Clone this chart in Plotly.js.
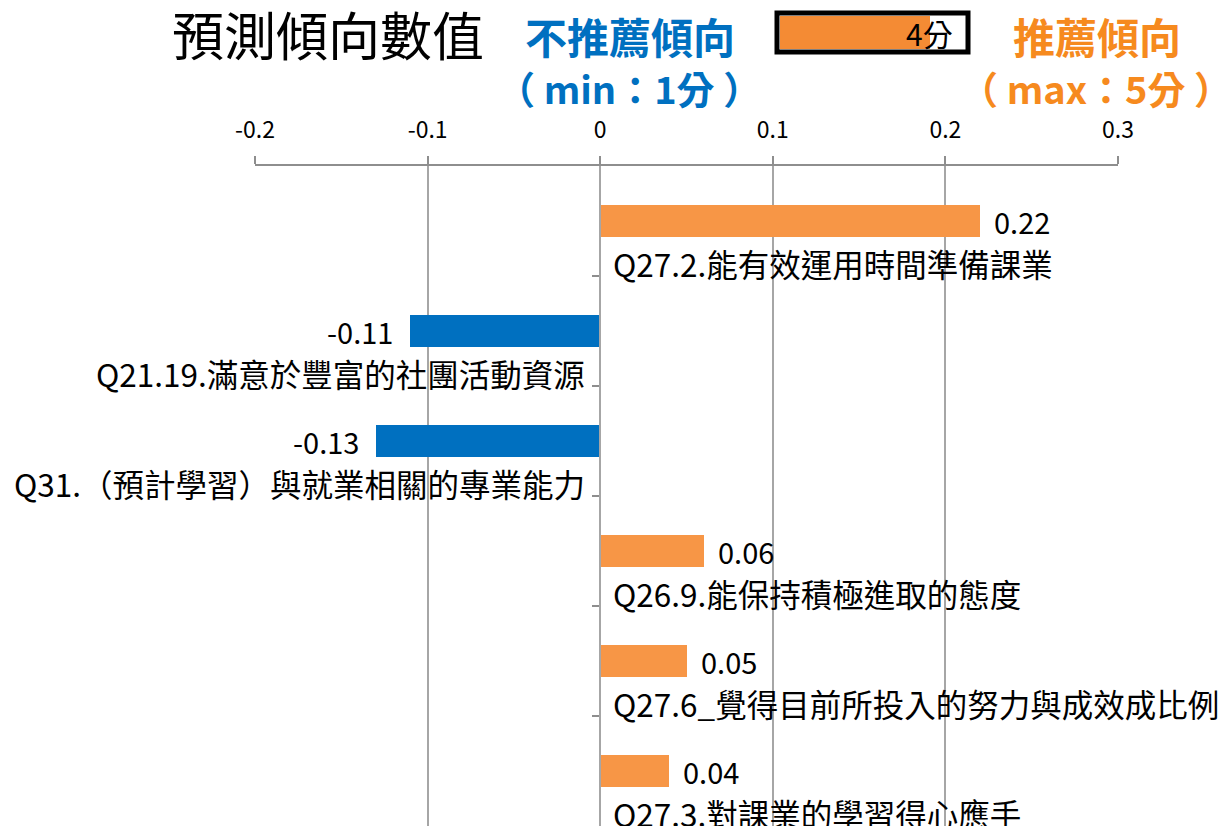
<!DOCTYPE html>
<html>
<head>
<meta charset="utf-8">
<script src="https://cdn.plot.ly/plotly-3.0.1.min.js"></script>
<style>html,body{margin:0;padding:0;background:#fff;}#chart{width:1222px;height:826px;}</style>
</head>
<body>
<div id="chart"></div>
<script>
// ---- data ----
const categories = [
  "Q27.2.能有效運用時間準備課業",
  "Q21.19.滿意於豐富的社團活動資源",
  "Q31.（預計學習）與就業相關的專業能力",
  "Q26.9.能保持積極進取的態度",
  "Q27.6_覺得目前所投入的努力與成效成比例",
  "Q27.3.對課業的學習得心應手"
];
const values = [0.22, -0.11, -0.13, 0.06, 0.05, 0.04];
const xTickVals = [-0.2, -0.1, 0, 0.1, 0.2, 0.3];
const xTickText = ["-0.2", "-0.1", "0", "0.1", "0.2", "0.3"];
const chartTitle = "預測傾向數值";
const leftHeader = ["不推薦傾向", "（ min：1分 ）"];
const rightHeader = ["推薦傾向", "（ max：5分 ）"];
const boxLabel = "4分";

// ---- styles ----
const ORANGE = "#F79646", BLUE = "#0070C0", TXT_ORANGE = "#F68A1E";
const FONT = "'Noto Sans CJK TC', 'Noto Sans', sans-serif";
const W = 1222, H = 826, L = 255, R = 104, T = 166, B = 0;
const PW = W - L - R, PH = H - T - B;
const px = x => (x - L) / PW;
const py = y => (H - B - y) / PH;

const idx = categories.map((c, i) => i);

const trace = {
  type: "bar",
  orientation: "h",
  x: values,
  y: idx,
  width: 0.29,
  marker: { color: values.map(v => v >= 0 ? ORANGE : BLUE) },
  hoverinfo: "skip"
};

const annotations = [];
values.forEach((v, i) => {
  const pos = v >= 0;
  annotations.push({
    x: v, y: i, xref: "x", yref: "y",
    text: v.toFixed(2), showarrow: false,
    xanchor: pos ? "left" : "right", yanchor: "middle",
    xshift: pos ? 12 : -15,
    font: { family: FONT, size: 29, color: "#000" }
  });
  annotations.push({
    x: 0, y: i + 0.38, xref: "x", yref: "y",
    text: categories[i], showarrow: false,
    xanchor: pos ? "left" : "right", yanchor: "middle",
    xshift: pos ? 11 : -13,
    font: { family: FONT, size: 31.5, color: "#000" }
  });
});

// headers
annotations.push(
  { xref: "paper", yref: "paper", x: px(630), y: py(36), text: leftHeader[0], showarrow: false,
    xanchor: "center", yanchor: "middle", font: { family: FONT, size: 42, color: BLUE, weight: 700 } },
  { xref: "paper", yref: "paper", x: px(629), y: py(87), text: leftHeader[1], showarrow: false,
    xanchor: "center", yanchor: "middle", font: { family: FONT, size: 38, color: BLUE, weight: 700 } },
  { xref: "paper", yref: "paper", x: px(1097), y: py(36), text: rightHeader[0], showarrow: false,
    xanchor: "center", yanchor: "middle", font: { family: FONT, size: 42, color: TXT_ORANGE, weight: 700 } },
  { xref: "paper", yref: "paper", x: px(1096), y: py(87), text: rightHeader[1], showarrow: false,
    xanchor: "center", yanchor: "middle", font: { family: FONT, size: 38, color: TXT_ORANGE, weight: 700 } },
  { xref: "paper", yref: "paper", x: px(929), y: py(33), text: boxLabel, showarrow: false,
    xanchor: "center", yanchor: "middle", font: { family: FONT, size: 30, color: "#000" } }
);

const shapes = [
  { type: "rect", xref: "paper", yref: "paper", x0: px(777), x1: px(968), y0: py(13), y1: py(52),
    fillcolor: "#fff", line: { color: "#000", width: 5 }, layer: "above" },
  { type: "rect", xref: "paper", yref: "paper", x0: px(780), x1: px(930), y0: py(16), y1: py(49),
    fillcolor: "#F48B34", line: { width: 0 }, layer: "above" }
];

const layout = {
  width: W, height: H,
  margin: { l: L, r: R, t: T, b: B, pad: 0 },
  paper_bgcolor: "#fff", plot_bgcolor: "#fff",
  showlegend: false,
  font: { family: FONT, color: "#000" },
  title: {
    text: chartTitle, xref: "container", yref: "container",
    x: 328 / W, y: 1 - 38 / H, xanchor: "center", yanchor: "middle",
    font: { family: FONT, size: 52, color: "#000" }
  },
  xaxis: {
    range: [-0.2, 0.3], side: "top",
    tickvals: xTickVals, ticktext: xTickText,
    showgrid: true, gridcolor: "#A6A6A6", gridwidth: 2,
    showline: true, linecolor: "#8E8E8E", linewidth: 2,
    ticks: "outside", ticklen: 8, tickwidth: 2, tickcolor: "#8E8E8E",
    ticklabelstandoff: 9,
    zeroline: false, fixedrange: true,
    tickfont: { family: FONT, size: 23, color: "#000" }
  },
  yaxis: {
    range: [5.5, -0.5], anchor: "free", position: 0.4,
    showline: true, linecolor: "#A6A6A6", linewidth: 2,
    ticks: "outside", ticklen: 7, tickwidth: 2, tickcolor: "#8E8E8E",
    tickvals: idx.slice(0, -1).map(i => i + 0.5),
    showticklabels: false, showgrid: false, zeroline: false, fixedrange: true
  },
  bargap: 0,
  annotations: annotations,
  shapes: shapes
};

Plotly.newPlot("chart", [trace], layout, { staticPlot: true, displayModeBar: false });
</script>
</body>
</html>
